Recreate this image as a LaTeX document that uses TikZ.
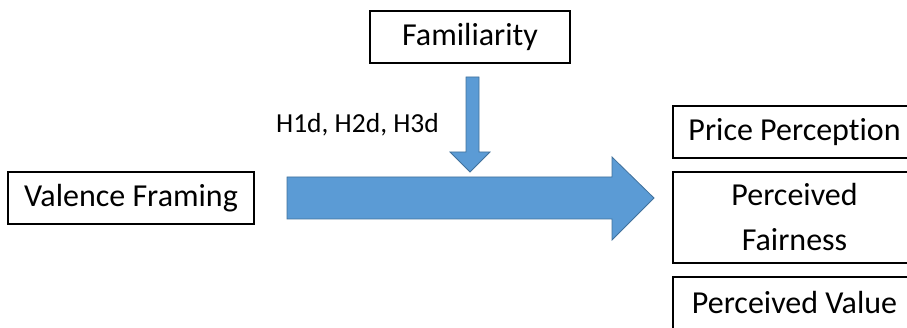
\documentclass[tikz,border=0pt]{standalone}
\usepackage{fontspec}
\setmainfont[Ligatures=NoCommon]{Carlito}
\begin{document}
\begin{tikzpicture}[x=1pt,y=-1pt,
  box/.style={draw=black,line width=1.3pt,fill=white,inner sep=0pt,align=center,
    font=\fontsize{32}{45}\selectfont},
  blockarrow/.style={fill=arrowblue,draw=arrowedge,line width=0.8pt,line join=miter},
  lbl/.style={font=\fontsize{27.5}{33}\selectfont,inner sep=0pt}]
\definecolor{arrowblue}{HTML}{5B9BD5}
\definecolor{arrowedge}{HTML}{41719C}
\useasboundingbox (0,0) rectangle (907,328);
\begin{scope}
\clip (0,0) rectangle (907,328);
\node[box,minimum width=200pt,minimum height=52pt] (fam) at (470,37) {Familiarity};
\node[box,minimum width=246pt,minimum height=52pt] (val) at (131,198) {Valence Framing};
\node[box,minimum width=243pt,minimum height=52pt] (price) at (794.5,132) {Price Perception};
\node[box,minimum width=243pt,minimum height=91pt] (fair) at (794.5,217.5) {Perceived\\Fairness};
\node[box,minimum width=243pt,minimum height=52pt] (value) at (794.5,303) {Perceived Value};
\node[lbl,anchor=base] (hyp) at (357.5,133) {H1d, H2d, H3d};
% main block arrow
\coordinate (m0) at (287,177);
\draw[blockarrow] (m0) -- (612,177) -- (612,157) -- (654,198) -- (612,240) -- (612,219) -- (287,219) -- cycle;
% down block arrow
\coordinate (d0) at (466,77);
\draw[blockarrow] (d0) -- (479,77) -- (479,152) -- (490,152) -- (470,172) -- (450,152) -- (466,152) -- cycle;
\end{scope}
\end{tikzpicture}
\end{document}
